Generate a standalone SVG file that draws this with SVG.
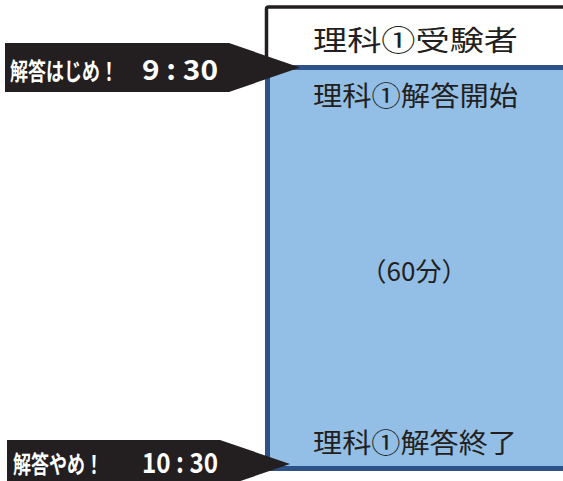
<svg xmlns="http://www.w3.org/2000/svg" width="563" height="481" viewBox="0 0 563 481">
<style>
.jp{font-family:"Noto Sans CJK JP","Noto Sans",sans-serif;fill:#231f20;}
.lbl{font-family:"Noto Sans CJK JP","Noto Sans",sans-serif;fill:#ffffff;font-weight:bold;}
.tag{fill:#231f20;}
</style>
<rect width="563" height="481" fill="#ffffff"/>
<g id="header">
<path d="M266.5,68 V9 Q266.5,7 268.5,7 H563" fill="none" stroke="#231f20" stroke-width="3.5"/>
<text class="jp" x="313" y="51" font-size="28" textLength="205" lengthAdjust="spacingAndGlyphs">理科①受験者</text>
</g>
<g id="exam-period">
<rect x="267.5" y="67.5" width="300" height="401" fill="#93bfe7"/>
<path d="M563,67.5 H267.5 V468.5 H563" fill="none" stroke="#2e5187" stroke-width="5"/>
<text class="jp" x="313" y="106" font-size="27" textLength="205" lengthAdjust="spacingAndGlyphs">理科①解答開始</text>
<text class="jp" x="414" y="281" font-size="26" text-anchor="middle">（60分）</text>
<text class="jp" x="313" y="453" font-size="27" textLength="204" lengthAdjust="spacingAndGlyphs">理科①解答終了</text>
</g>
<g id="start-callout">
<polygon class="tag" points="5,43 229,43 300,67.5 229,92 5,92"/>
<text class="lbl" font-size="24" transform="translate(10,80) scale(0.75,1)">解答はじめ！</text>
<text class="lbl" x="142" y="80" font-size="28" textLength="76" lengthAdjust="spacingAndGlyphs">9 : 30</text>
</g>
<g id="end-callout">
<polygon class="tag" points="7,440 220,440 290,464 220,488 7,488"/>
<text class="lbl" font-size="24" transform="translate(13,473) scale(0.75,1)">解答やめ！</text>
<text class="lbl" x="142" y="473" font-size="28" textLength="76" lengthAdjust="spacingAndGlyphs">10 : 30</text>
</g>
</svg>
